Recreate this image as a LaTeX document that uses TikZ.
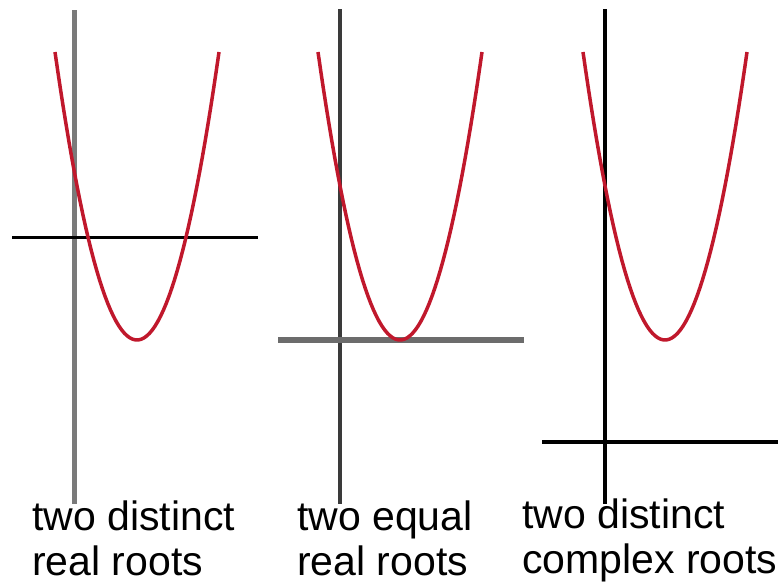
\documentclass[tikz,border=0pt]{standalone}
\usepackage{fontspec}
\setmainfont{Liberation Sans}
\usetikzlibrary{positioning}
\definecolor{curvered}{RGB}{192,24,44}
\definecolor{axisgray}{RGB}{122,122,122}
\definecolor{axisdark}{RGB}{58,58,58}
\definecolor{axismid}{RGB}{108,108,108}

\begin{document}
\begin{tikzpicture}[x=1pt,y=-1pt]
\tikzstyle{every node}=[inner sep=0pt,font=\fontsize{41}{45}\selectfont]
\tikzstyle{curve}=[curvered,line width=3.5pt]
\tikzstyle{lbl}=[anchor=base west]
\useasboundingbox (0,0) rectangle (778,582);

% two distinct real roots
\coordinate (v1t) at (74,10);
\coordinate (v1b) at (74,504);
\coordinate (h1l) at (12,237);
\coordinate (h1r) at (258,237);
\draw[axisgray,line width=5pt] (v1t) -- (v1b);
\draw[line width=3pt] (h1l) -- (h1r);
\draw[curve] plot[domain=-82:82,samples=60] ({137+\x},{340-288*(\x/82)*(\x/82)});
\node[lbl] (t1a) at (32,530) {two distinct};
\node[lbl] (t1b) at (32,575) {real roots};

% two equal real roots
\coordinate (v2t) at (340,9);
\coordinate (v2b) at (340,504);
\coordinate (h2l) at (278,340);
\coordinate (h2r) at (524,340);
\draw[axisdark,line width=3.5pt] (v2t) -- (v2b);
\draw[axismid,line width=5.5pt] (h2l) -- (h2r);
\draw[curve] plot[domain=-82:82,samples=60] ({400+\x},{340-288*(\x/82)*(\x/82)});
\node[lbl] (t2a) at (297,530) {two equal};
\node[lbl] (t2b) at (297,575) {real roots};

% two distinct complex roots
\coordinate (v3t) at (605,9);
\coordinate (v3b) at (605,504);
\coordinate (h3l) at (542,442);
\coordinate (h3r) at (778,442);
\draw[line width=3.5pt] (v3t) -- (v3b);
\draw[line width=3.5pt] (h3l) -- (h3r);
\draw[curve] plot[domain=-82:82,samples=60] ({665+\x},{340-288*(\x/82)*(\x/82)});
\node[lbl] (t3a) at (522,528) {two distinct};
\node[lbl] (t3b) at (522,573) {complex roots};
\end{tikzpicture}
\end{document}
